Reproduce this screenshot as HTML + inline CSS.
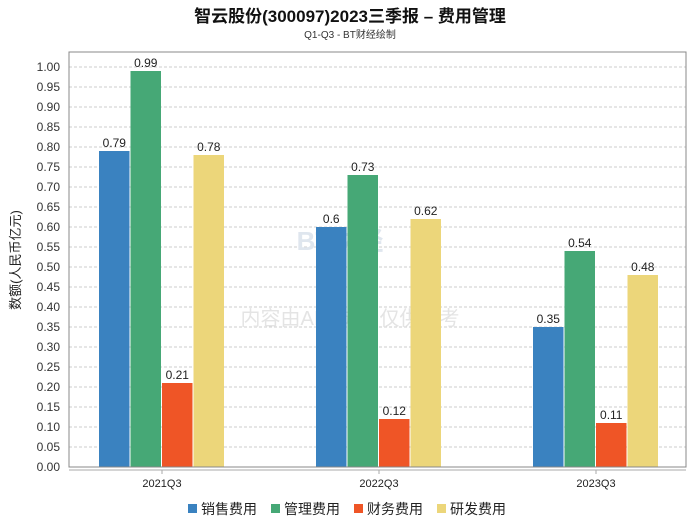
<!DOCTYPE html>
<html><head><meta charset="utf-8"><style>
body{margin:0;background:#fff;}
svg text{font-family:"Liberation Sans","Noto Sans CJK SC",sans-serif;}
</style></head><body>
<svg id="chart" width="700" height="524">
<text x="350" y="22" text-anchor="middle" font-size="17" font-weight="bold" fill="#111">智云股份(300097)2023三季报 – 费用管理</text>
<text x="350" y="38" text-anchor="middle" font-size="10" fill="#333">Q1-Q3 - BT财经绘制</text>
<text transform="translate(20,260) rotate(-90)" text-anchor="middle" font-size="13" fill="#222">数额(人民币亿元)</text>
<g id="grid"></g>
<text x="340" y="250" text-anchor="middle" font-size="26" font-weight="bold" fill="#dfe6ee">BT财经</text>
<text x="350" y="325" text-anchor="middle" font-size="20" fill="#e4e4e4">内容由AI生成，仅供参考</text>
<g id="bars"></g>
<rect x="69" y="52" width="617" height="415" fill="none" stroke="#888"/>
<line x1="69" y1="470" x2="686" y2="470" stroke="#aaa"/>
<g id="legend"></g>
</svg>
<script>
const categories=["2021Q3","2022Q3","2023Q3"];
const seriesNames=["销售费用","管理费用","财务费用","研发费用"];
const sales=[0.79,0.6,0.35];
const admin=[0.99,0.73,0.54];
const finance=[0.21,0.12,0.11];
const rnd=[0.78,0.62,0.48];
const yTicks=[0,0.05,0.1,0.15,0.2,0.25,0.3,0.35,0.4,0.45,0.5,0.55,0.6,0.65,0.7,0.75,0.8,0.85,0.9,0.95,1.0];
const colors=["#3a82c0","#46a876","#ef5526","#ecd67a"];
const series=[sales,admin,finance,rnd];
const NS="http://www.w3.org/2000/svg";
const y=v=>467-v*400;
const barW=30.5,gap=1;
const cx=i=>162+217*i;
function mk(t,a,p){const e=document.createElementNS(NS,t);for(const k in a)e.setAttribute(k,a[k]);p.appendChild(e);return e;}
const grid=document.getElementById('grid');
yTicks.forEach(v=>{
 const l=mk('line',{x1:69,x2:686,y1:y(v),y2:y(v),stroke:'#ccc','stroke-dasharray':'3,2'},grid);
 
 
 const t=mk('text',{x:60,y:y(v)+4,'text-anchor':'end','font-size':'12',fill:'#333'},grid);
 t.textContent=v.toFixed(2);
 
 
});
const bars=document.getElementById('bars');
categories.forEach((c,i)=>{
 const c0=cx(i);
 const tk=mk('line',{x1:c0,x2:c0,y1:470,y2:474,stroke:'#aaa'},bars);
 
 
 const lt=mk('text',{x:c0,y:487,'text-anchor':'middle','font-size':'11',fill:'#222'},bars);
 lt.textContent=c;
 
 
 series.forEach((s,j)=>{
  const bx=c0-2*(barW+gap)+j*(barW+gap);
  const r=mk('rect',{x:bx,y:y(s[i]),width:barW,height:467-y(s[i]),fill:colors[j]},bars);
  
  
  const t=mk('text',{x:bx+barW/2,y:y(s[i])-4,'text-anchor':'middle','font-size':'12',fill:'#222'},bars);
  t.textContent=String(s[i]);
  
  
 });
});
const lg=document.getElementById('legend');
const lx=[188,271,354,437];
seriesNames.forEach((n,j)=>{
 const r=mk('rect',{x:lx[j],y:504,width:9,height:9,fill:colors[j]},lg);
 
 
 const t=mk('text',{x:lx[j]+13,y:514,'font-size':'14',fill:'#222'},lg);
 t.textContent=n;
 
 
});
</script>
</body></html>
